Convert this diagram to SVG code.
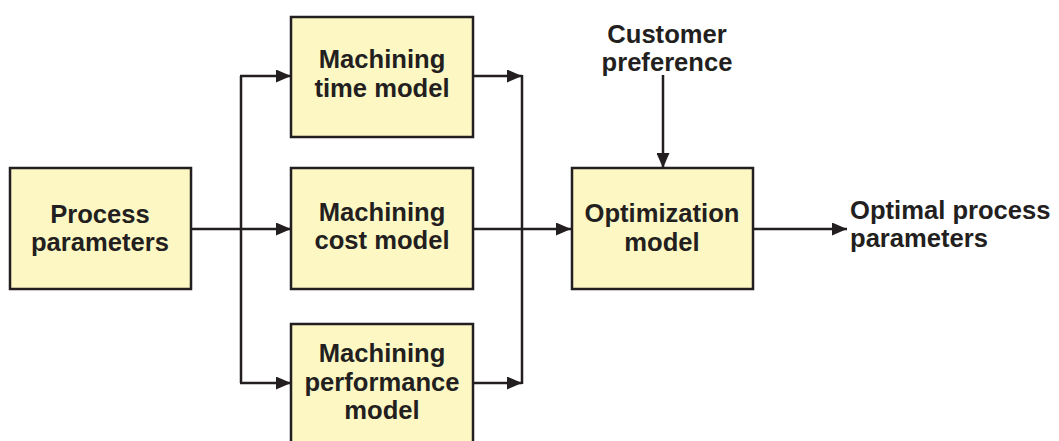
<svg xmlns="http://www.w3.org/2000/svg" width="1059" height="441" viewBox="0 0 1059 441">
  <style>
    .box { fill: #fdf7c4; stroke: #231f20; stroke-width: 2.5; }
    .lbl { font-family: "Liberation Sans", Arial, sans-serif; font-weight: bold; font-size: 25.6px; fill: #231f20; text-anchor: middle; }
    .lft { text-anchor: start; }
    .wire { fill: none; stroke: #231f20; stroke-width: 2.5; }
    .arr { marker-end: url(#head); }
  </style>
  <defs>
    <marker id="head" viewBox="0 0 15 13" refX="15" refY="6.5" markerWidth="15" markerHeight="13" markerUnits="userSpaceOnUse" orient="auto">
      <path d="M0,0 L15,6.5 L0,13 Z" fill="#231f20"/>
    </marker>
  </defs>
  <rect width="1059" height="441" fill="#ffffff"/>

  <g id="connectors">
    <!-- fan-out from process parameters -->
    <line class="wire" x1="191" y1="229" x2="241" y2="229"/>
    <line class="wire" x1="241" y1="76" x2="241" y2="383"/>
    <line class="wire arr" x1="240" y1="76" x2="291" y2="76"/>
    <line class="wire arr" x1="241" y1="229" x2="291" y2="229"/>
    <line class="wire arr" x1="240" y1="383" x2="291" y2="383"/>
    <!-- fan-in to optimization -->
    <line class="wire arr" x1="473" y1="76" x2="522" y2="76"/>
    <line class="wire arr" x1="473" y1="383" x2="522" y2="383"/>
    <line class="wire" x1="522" y1="75" x2="522" y2="384"/>
    <line class="wire arr" x1="473" y1="229" x2="571" y2="229"/>
    <!-- customer preference input -->
    <line class="wire arr" x1="663" y1="75" x2="663" y2="168"/>
    <!-- output -->
    <line class="wire arr" x1="753" y1="229" x2="847" y2="229"/>
  </g>

  <g id="process-parameters">
    <rect class="box" x="10" y="168" width="181" height="121"/>
    <text class="lbl" x="100" y="223">Process</text>
    <text class="lbl" x="100" y="251">parameters</text>
  </g>

  <g id="time-model">
    <rect class="box" x="291" y="17" width="182" height="120"/>
    <text class="lbl" x="382" y="68">Machining</text>
    <text class="lbl" x="382" y="97">time model</text>
  </g>

  <g id="cost-model">
    <rect class="box" x="291" y="168" width="182" height="121"/>
    <text class="lbl" x="382" y="221">Machining</text>
    <text class="lbl" x="382" y="249">cost model</text>
  </g>

  <g id="performance-model">
    <rect class="box" x="291" y="324" width="182" height="122"/>
    <text class="lbl" x="382" y="362">Machining</text>
    <text class="lbl" x="382" y="391">performance</text>
    <text class="lbl" x="382" y="419">model</text>
  </g>

  <g id="optimization-model">
    <rect class="box" x="572" y="168" width="181" height="121"/>
    <text class="lbl" x="662" y="222">Optimization</text>
    <text class="lbl" x="662" y="251">model</text>
  </g>

  <g id="customer-preference">
    <text class="lbl" x="667" y="43">Customer</text>
    <text class="lbl" x="667" y="71">preference</text>
  </g>

  <g id="optimal-parameters">
    <text class="lbl lft" x="850" y="219">Optimal process</text>
    <text class="lbl lft" x="850" y="247">parameters</text>
  </g>
</svg>
